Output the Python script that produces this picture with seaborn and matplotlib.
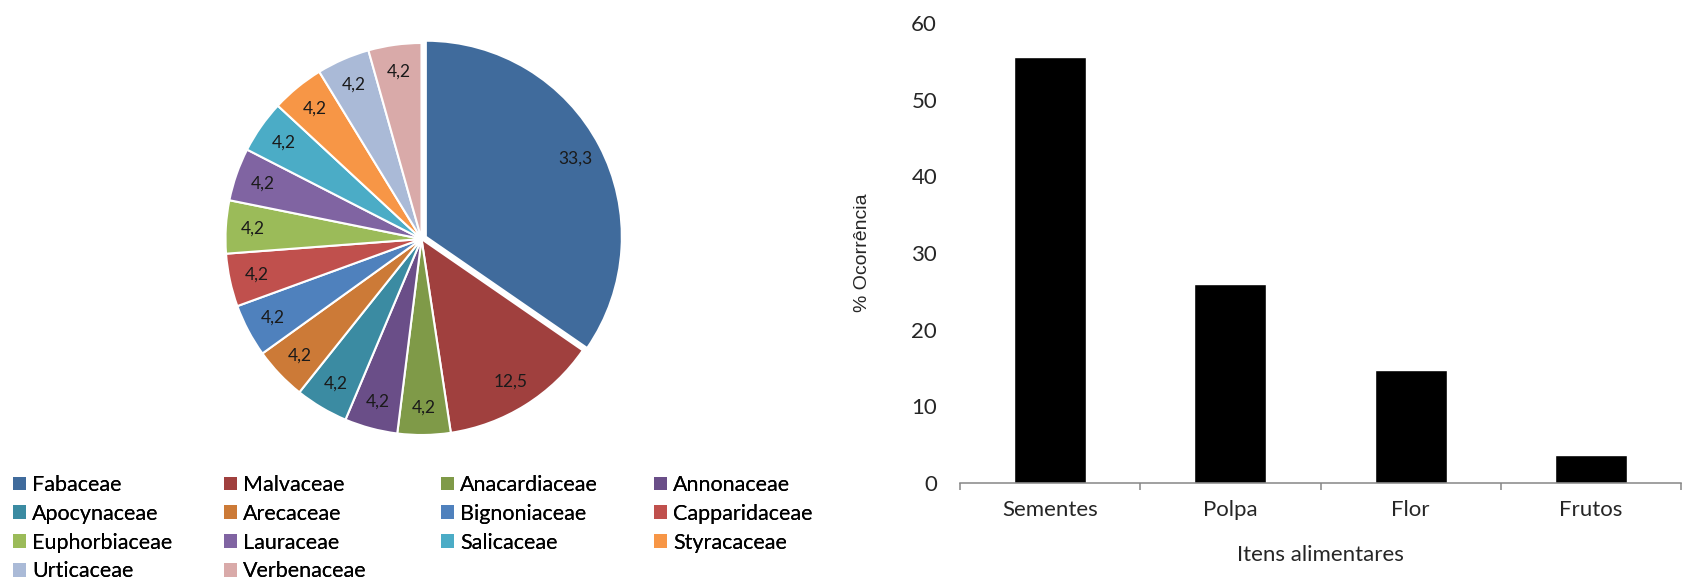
import matplotlib
matplotlib.use("Agg")
import matplotlib.pyplot as plt
import seaborn as sns
import numpy as np

# ---------------- data ----------------
families = ["Fabaceae", "Malvaceae", "Anacardiaceae", "Annonaceae",
            "Apocynaceae", "Arecaceae", "Bignoniaceae", "Capparidaceae",
            "Euphorbiaceae", "Lauraceae", "Salicaceae", "Styracaceae",
            "Urticaceae", "Verbenaceae"]
family_pct = [33.3, 12.5, 4.2, 4.2, 4.2, 4.2, 4.2, 4.2, 4.2, 4.2, 4.2, 4.2, 4.2, 4.2]
family_colors = ["#406B9C", "#A0403E", "#7F9A48", "#6A4E88",
                 "#3B8BA2", "#CC7A37", "#4F81BD", "#C0504D",
                 "#9BBB59", "#8064A2", "#4BACC6", "#F79646",
                 "#AABAD7", "#D9AAA9"]

items = ["Sementes", "Polpa", "Flor", "Frutos"]
occurrence = [55.6, 25.9, 14.8, 3.7]
yticks = [0, 10, 20, 30, 40, 50, 60]

# ---------------- style ----------------
sns.set_style("white")
plt.rcParams["font.family"] = ["Lato", "DejaVu Sans"]
plt.rcParams["text.color"] = "#000000"

W, H = 1686, 588
fig = plt.figure(figsize=(W / 100, H / 100), dpi=100)

def px_axes(left, top, width, height):
    return fig.add_axes([left / W, 1 - (top + height) / H, width / W, height / H])

# ---------------- pie ----------------
R = 196.0
cx, cy = 421.5, 239.0
half = R * 1.1
ax_pie = px_axes(cx - half, cy - half, 2 * half, 2 * half)
explode = [0.025] + [0] * (len(family_pct) - 1)
labels_txt = [f"{v:.1f}".replace(".", ",") for v in family_pct]
wedges, texts = ax_pie.pie(
    family_pct, labels=labels_txt, colors=family_colors, startangle=90,
    counterclock=False, explode=explode, labeldistance=0.86,
    wedgeprops=dict(edgecolor="white", linewidth=1.5),
    textprops=dict(fontsize=12.5, color="#1a1a1a"))
for t in texts:
    t.set_ha("center")
    t.set_va("center")
ax_pie.set_xlim(-1.1, 1.1)
ax_pie.set_ylim(-1.1, 1.1)
ax_pie.set_aspect("equal")
ax_pie.axis("off")

# legend: 4 columns, row-major order like the original
col_x = [13, 224, 441, 654]
legend_top = 475
for j in range(4):
    idx = list(range(j, len(families), 4))
    leg = fig.legend(
        [wedges[i] for i in idx], [families[i] for i in idx],
        loc="upper left", bbox_to_anchor=(col_x[j] / W, 1 - legend_top / H),
        frameon=False, borderaxespad=0, borderpad=0,
        handlelength=0.6, handleheight=0.6, handletextpad=0.3,
        labelspacing=0.41, fontsize=15.5)
    for h in leg.legend_handles:
        h.set_edgecolor("none")
        h.set_linewidth(0)
    fig.add_artist(leg)

# ---------------- bars ----------------
ax_bar = px_axes(960, 23, 721, 460)
sns.barplot(x=items, y=occurrence, color="black", saturation=1, width=0.4,
            ax=ax_bar)
ax_bar.set_xlim(-0.5, 3.5)
ax_bar.set_ylim(0, 60)
ax_bar.set_yticks(yticks)
ax_bar.set_yticklabels([str(v) for v in yticks])
for s in ["top", "right", "left"]:
    ax_bar.spines[s].set_visible(False)
ax_bar.spines["bottom"].set_color("#868686")
ax_bar.spines["bottom"].set_linewidth(1.1)
ax_bar.set_xticks(list(np.arange(len(items)) - 0.5) + [len(items) - 0.5], minor=True)
ax_bar.tick_params(axis="x", which="minor", length=5, width=1.1, color="#868686",
                   bottom=True, direction="out")
ax_bar.tick_params(axis="x", which="major", length=0, pad=12, labelsize=16)
ax_bar.tick_params(axis="y", length=0, pad=16.5, labelsize=16)
ax_bar.set_xlabel("Itens alimentares", fontsize=16)
ax_bar.set_ylabel("% Ocorrência", fontsize=14, family=["Liberation Sans", "DejaVu Sans"])
ax_bar.xaxis.set_label_coords(0.5, -0.135)
ax_bar.yaxis.set_label_coords(-0.123, 0.5)
ax_bar.grid(False)

fig.savefig("out.png", dpi=100, facecolor="white")
